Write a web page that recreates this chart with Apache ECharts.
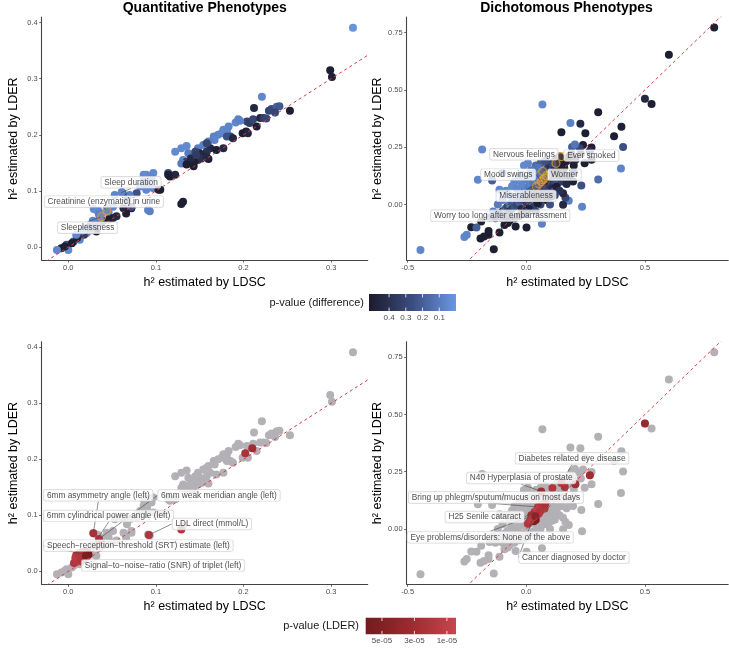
<!DOCTYPE html>
<html><head><meta charset="utf-8">
<script src="https://cdn.jsdelivr.net/npm/echarts@6/dist/echarts.min.js"></script>
<style>html,body{margin:0;padding:0;background:#fff}#c{width:729px;height:650px}</style>
</head><body><div id="c"></div>
<script>
// ---------------- DATA ----------------
// Quantitative phenotypes: [h2 LDSC, h2 LDER, p-value (difference)]
const quantPoints = [
 [0.325,0.391,0.02],[0.299,0.315,0.5],[0.301,0.303,0.5],[0.221,0.268,0.06],[0.212,0.248,0.45],[0.253,0.243,0.5],
 [0.232,0.246,0.25],[0.238,0.250,0.2],[0.241,0.251,0.22],[0.229,0.243,0.3],[0.236,0.240,0.3],[0.204,0.224,0.3],
 [0.207,0.221,0.35],[0.211,0.228,0.3],[0.219,0.230,0.45],[0.223,0.230,0.35],[0.226,0.229,0.3],[0.196,0.225,0.07],
 [0.191,0.222,0.06],[0.194,0.228,0.08],[0.215,0.215,0.5],[0.203,0.206,0.5],[0.199,0.203,0.5],[0.205,0.203,0.45],
 [0.183,0.215,0.07],[0.177,0.209,0.06],[0.181,0.206,0.07],[0.175,0.203,0.06],[0.171,0.200,0.07],[0.166,0.197,0.08],
 [0.185,0.197,0.3],[0.181,0.197,0.25],[0.188,0.194,0.45],[0.167,0.191,0.07],[0.160,0.188,0.09],[0.154,0.182,0.08],
 [0.148,0.176,0.09],[0.135,0.180,0.05],[0.129,0.176,0.05],[0.122,0.170,0.05],[0.137,0.167,0.1],[0.141,0.161,0.15],
 [0.131,0.155,0.07],[0.135,0.152,0.35],[0.162,0.176,0.45],[0.158,0.170,0.4],[0.154,0.161,0.5],[0.148,0.155,0.5],
 [0.143,0.149,0.5],[0.169,0.173,0.5],[0.177,0.176,0.45],[0.158,0.185,0.3],[0.150,0.167,0.45],[0.145,0.170,0.3],
 [0.140,0.158,0.45],[0.152,0.158,0.4],[0.146,0.164,0.35],[0.129,0.149,0.1],[0.135,0.147,0.5],[0.143,0.144,0.5],
 [0.160,0.157,0.5],[0.158,0.160,0.45],[0.114,0.132,0.25],[0.116,0.126,0.5],[0.122,0.129,0.45],[0.097,0.132,0.05],
 [0.089,0.129,0.05],[0.093,0.126,0.06],[0.095,0.123,0.06],[0.086,0.117,0.05],[0.082,0.108,0.06],[0.090,0.113,0.08],
 [0.105,0.102,0.5],[0.097,0.105,0.06],[0.078,0.096,0.25],[0.070,0.093,0.08],[0.062,0.096,0.3],[0.053,0.093,0.07],
 [0.067,0.084,0.3],[0.051,0.072,0.06],[0.044,0.069,0.05],[0.032,0.066,0.05],[0.038,0.060,0.06],[0.046,0.062,0.08],
 [0.063,0.069,0.45],[0.072,0.069,0.5],[0.066,0.060,0.5],[0.091,0.066,0.07],[0.093,0.064,0.08],[0.131,0.081,0.5],
 [0.129,0.077,0.5],[0.051,0.052,0.5],[0.055,0.055,0.45],[0.030,0.043,0.06],[0.025,0.037,0.2],[0.032,0.028,0.5],
 [0.021,0.025,0.06],[0.013,0.019,0.3],[0.013,0.013,0.06],[0.006,0.010,0.25],[-0.002,0.004,0.25],[-0.008,-0.002,0.5],
 [-0.013,-0.005,0.06],[0.000,-0.005,0.05],[-0.004,0.001,0.5],[0.004,0.007,0.5],[0.010,0.016,0.5],[0.018,0.022,0.35],
 [0.026,0.030,0.08],[0.035,0.042,0.1],[0.040,0.047,0.3],[0.028,0.047,0.06],[0.036,0.050,0.07],[0.034,0.065,0.06],
 [0.029,0.068,0.05],[0.061,0.098,0.07],[0.089,0.102,0.06],[0.086,0.129,0.05],[0.103,0.102,0.5],[0.114,0.129,0.5],
 [0.072,0.072,0.25],[0.046,0.049,0.5],[0.020,0.033,0.07],[0.015,0.028,0.2],[0.009,0.022,0.06],[0.022,0.035,0.3],
 [0.035,0.058,0.08],[0.017,0.030,0.06]
];
// Quantitative phenotypes significant by LDER: [h2 LDSC, h2 LDER, p-value (LDER)]
const quantSig = [
 [0.210,0.220,3e-5],[0.202,0.211,2.5e-5],[0.0285,0.068,2.5e-5],[0.092,0.065,2e-5],[0.129,0.075,2e-5],[0.035,0.058,2e-5],
 [0.0065,0.015,2e-5],[0.0095,0.020,1.5e-5],[0.011,0.026,2e-5],[0.015,0.029,3e-5],[0.019,0.031,2e-5],[0.022,0.033,2.5e-5],
 [0.013,0.023,1e-5],[0.009,0.029,2e-5],[0.017,0.021,2e-5],[0.021,0.027,2.5e-5],[0.008,0.024,1.5e-5],[0.012,0.032,2e-5],
 [0.016,0.034,2e-5],[0.020,0.035,2e-5],[0.014,0.018,2e-5],[0.023,0.030,5.8e-5],[0.020,0.028,5.5e-5]
];
const quantHighlight = [[0.044,0.065],[0.038,0.054]];
const quantLabels = [
 ['Sleep duration',0.059,0.096],['Creatinine (enzymatic) in urine',0.044,0.065],['Sleeplessness',0.038,0.054]
];
const quantSigLabels = [
 ['6mm asymmetry angle (left)',0.0285,0.068],['6mm weak meridian angle (left)',0.035,0.058],
 ['6mm cylindrical power angle (left)',0.022,0.033],['LDL direct (mmol/L)',0.092,0.065],
 ['Speech\u2212reception\u2212threshold (SRT) estimate (left)',0.020,0.030],
 ['Signal\u2212to\u2212noise\u2212ratio (SNR) of triplet (left)',0.018,0.025]
];

// Dichotomous phenotypes: [h2 LDSC, h2 LDER, p-value (difference)]
const dichoPoints = [
 [0.792,0.772,0.5],[0.601,0.653,0.5],[0.500,0.461,0.45],[0.528,0.439,0.5],[0.068,0.436,0.06],[0.303,0.403,0.5],
 [0.186,0.356,0.08],[0.228,0.352,0.45],[0.401,0.339,0.5],[0.148,0.315,0.5],[0.249,0.311,0.5],[0.370,0.298,0.5],
 [0.408,0.251,0.25],[-0.186,0.240,0.06],[0.193,0.251,0.2],[0.239,0.260,0.5],[0.275,0.249,0.5],[0.225,0.246,0.3],
 [0.205,0.262,0.12],[0.399,0.157,0.07],[0.303,0.109,0.15],[-0.204,0.108,0.06],[-0.144,0.105,0.2],[-0.113,0.064,0.06],
 [-0.101,0.137,0.2],[0.232,0.083,0.25],[0.235,-0.010,0.07],[0.179,0.017,0.08],[0.155,-0.001,0.45],[0.165,0.030,0.3],
 [-0.446,-0.198,0.06],[-0.261,-0.142,0.06],[-0.251,-0.132,0.07],[-0.232,-0.099,0.5],[-0.193,-0.148,0.5],[-0.159,-0.132,0.5],
 [-0.159,-0.115,0.5],[-0.113,-0.122,0.5],[-0.137,-0.195,0.5],[-0.178,-0.140,0.5],[0.001,-0.100,0.5],[0.066,-0.084,0.08],
 [-0.045,-0.096,0.5],[-0.078,-0.081,0.5],[-0.092,-0.089,0.5],[-0.190,-0.074,0.5],[-0.155,-0.057,0.2],[-0.130,-0.040,0.25],
 [-0.210,-0.100,0.2],[0.246,0.180,0.5],[0.275,0.195,0.5],[0.230,0.220,0.45],[0.200,0.190,0.4],[0.190,0.220,0.5],
 [-0.13,-0.06,0.5],[-0.12,-0.04,0.3],[-0.11,-0.05,0.2],[-0.10,-0.03,0.45],[-0.10,-0.06,0.3],[-0.09,-0.02,0.15],
 [-0.09,-0.05,0.5],[-0.08,-0.01,0.3],[-0.08,-0.04,0.25],[-0.07,0.00,0.1],[-0.07,-0.03,0.4],[-0.06,0.01,0.2],
 [-0.06,-0.02,0.35],[-0.05,0.02,0.08],[-0.05,-0.01,0.25],[-0.04,0.03,0.15],[-0.04,0.00,0.3],[-0.03,0.04,0.1],
 [-0.03,0.01,0.2],[-0.02,0.05,0.06],[-0.02,0.02,0.25],[-0.01,0.06,0.12],[-0.01,0.03,0.2],[0.00,0.07,0.08],
 [0.00,0.04,0.22],[0.00,0.01,0.35],[0.01,0.08,0.1],[0.01,0.05,0.18],[0.01,0.02,0.3],[0.02,0.09,0.07],
 [0.02,0.06,0.15],[0.02,0.03,0.35],[0.03,0.10,0.12],[0.03,0.07,0.2],[0.03,0.04,0.25],[0.04,0.11,0.06],
 [0.04,0.08,0.15],[0.04,0.05,0.22],[0.04,0.02,0.4],[0.05,0.12,0.1],[0.05,0.09,0.2],[0.05,0.06,0.3],
 [0.06,0.13,0.15],[0.06,0.10,0.12],[0.06,0.07,0.25],[0.06,0.04,0.4],[0.07,0.14,0.2],[0.07,0.11,0.18],
 [0.07,0.08,0.3],[0.08,0.15,0.25],[0.08,0.12,0.15],[0.08,0.09,0.35],[0.08,0.06,0.3],[0.09,0.16,0.3],
 [0.09,0.13,0.22],[0.09,0.10,0.4],[0.10,0.17,0.4],[0.10,0.14,0.2],[0.10,0.11,0.45],[0.10,0.08,0.35],
 [0.11,0.18,0.45],[0.11,0.15,0.3],[0.11,0.12,0.5],[0.12,0.19,0.45],[0.12,0.16,0.5],[0.12,0.13,0.35],
 [0.13,0.20,0.5],[0.13,0.17,0.3],[0.13,0.14,0.5],[0.14,0.21,0.45],[0.14,0.18,0.5],[0.15,0.19,0.4],
 [0.15,0.16,0.5],[0.16,0.20,0.5],[0.17,0.19,0.45],[0.18,0.21,0.5],[0.16,0.13,0.3],[0.14,0.12,0.5],
 [0.12,0.10,0.3],[0.11,0.07,0.45],[0.09,0.05,0.25],[0.07,0.03,0.35],[0.05,0.01,0.45],[0.03,-0.01,0.35],
 [0.01,-0.02,0.5],[-0.01,-0.03,0.3],[-0.03,-0.05,0.5],[-0.05,-0.06,0.35],[-0.07,-0.07,0.5],
 [-0.01,0.17,0.05],[0.007,0.18,0.06],[-0.03,0.12,0.07],[-0.05,0.10,0.06],[-0.06,0.08,0.05],[-0.085,0.06,0.06],
 [-0.04,0.07,0.07],[-0.02,0.09,0.06],[0.00,0.11,0.08],[0.02,0.13,0.07],[0.03,0.15,0.1],[-0.07,0.04,0.07],
 [-0.10,0.02,0.08],[-0.12,0.00,0.1],[-0.14,-0.03,0.1],[0.04,0.17,0.15],[0.06,0.18,0.2],[0.08,0.19,0.25],
 [0.02,0.15,0.1],[0.05,0.16,0.12],[-0.02,0.13,0.08],[0.10,0.04,0.2],[0.08,0.02,0.25],[0.00,-0.04,0.4],
 [0.13,0.09,0.25],[0.15,0.10,0.35],[0.06,0.00,0.3],[-0.02,-0.02,0.45],[0.04,-0.03,0.3],[0.12,0.06,0.2],
 [0.20,0.17,0.5],[0.197,0.10,0.5],[0.127,0.078,0.5],[0.155,0.049,0.45],[0.106,0.035,0.5],[0.089,0.020,0.5],
 [0.049,0.006,0.5],[0.18,0.12,0.5],[0.17,0.09,0.45],[0.14,0.06,0.4],[0.20,0.14,0.35],[0.16,0.16,0.5],
 [0.12,0.04,0.3],[0.10,0.00,0.25],[0.268,0.234,0.4],[0.207,0.195,0.45],[0.162,0.183,0.5],[0.110,0.179,0.3]
];
// Dichotomous phenotypes significant by LDER: [h2 LDSC, h2 LDER, p-value (LDER)]
const dichoSig = [
 [0.500,0.461,3.5e-5],[0.268,0.234,3e-5],[0.207,0.195,3e-5],[0.162,0.183,2.5e-5],[0.110,0.179,2e-5],[0.148,0.201,2e-5],
 [0.063,0.164,3e-5],[0.014,0.031,2e-5],[0.028,0.045,1.5e-5],[0.042,0.060,2e-5],[0.056,0.074,1.5e-5],[0.070,0.089,2e-5],
 [0.035,0.074,2e-5],[0.021,0.060,2.5e-5],[0.049,0.096,1.5e-5],[0.063,0.103,2e-5],[0.077,0.089,2e-5],[0.007,0.023,2e-5],
 [0.032,0.033,5e-5],[0.040,0.040,5.5e-5],[0.046,0.085,1e-5],[0.060,0.080,2e-5],[0.025,0.050,2e-5],[0.052,0.066,2e-5],
 [0.080,0.110,2.5e-5],[0.018,0.040,1.5e-5],[0.038,0.055,4.5e-5]
];
const dichoHighlight = [[0.042,0.078],[0.054,0.090],[0.063,0.100],[0.070,0.108],[0.077,0.115],[0.085,0.126],[0.069,0.144],[0.125,0.180],[0.148,0.209]];
const dichoLabels = [
 ['Nervous feelings',0.125,0.180],['Ever smoked',0.148,0.209],['Mood swings',0.063,0.100],
 ['Worrier',0.085,0.126],['Miserableness',0.054,0.090],['Worry too long after embarrassment',0.042,0.078]
];
const dichoSigLabels = [
 ['Diabetes related eye disease',0.148,0.201],['N40 Hyperplasia of prostate',0.063,0.164],
 ['Bring up phlegm/sputum/mucus on most days',0.049,0.096],['H25 Senile cataract',0.035,0.074],
 ['Eye problems/disorders: None of the above',0.021,0.055],['Cancer diagnosed by doctor',0.028,0.045]
];
const quantXTicks = [0, 0.1, 0.2, 0.3];
const quantYTicks = [0, 0.1, 0.2, 0.3, 0.4];
const dichoXTicks = [-0.5, 0, 0.5];
const dichoYTicks = [0, 0.25, 0.5, 0.75];
const pDiffTicks = [0.4, 0.3, 0.2, 0.1];
const pLderTicks = [5e-5, 3e-5, 1e-5];

// ---------------- LAYOUT / STYLE ----------------
const FONT = 'Liberation Sans, Arial, Helvetica, sans-serif';
const blueStops = ['#6b98e4', '#3b4d80', '#1b1b2b'];   // low p -> high p
const redStops = ['#c9444e', '#9e2a30', '#741a1e'];
const pDiffRange = [0, 0.52];
const pLderRange = [4.4e-6, 6e-5];
const GRAY = '#b3b1b5';
const DIAG = '#d23f45';
const labelOffsets = {
 'Sleep duration':[11,-11], 'Creatinine (enzymatic) in urine':[-3,-9], 'Sleeplessness':[-14,11],
 'Ever smoked':[30,-1], 'Nervous feelings':[-32,-9], 'Mood swings':[-33,-7], 'Worrier':[18,-1],
 'Miserableness':[-13,12], 'Worry too long after embarrassment':[-36,29],
 '6mm asymmetry angle (left)':[5,-38], '6mm weak meridian angle (left)':[120,-43.5],
 '6mm cylindrical power angle (left)':[21,-37], 'LDL direct (mmol/L)':[63,-11],
 'Speech\u2212reception\u2212threshold (SRT) estimate (left)':[52.5,-9],
 'Signal\u2212to\u2212noise\u2212ratio (SNR) of triplet (left)':[79,8],
 'Diabetes related eye disease':[10.6,-24.6], 'N40 Hyperplasia of prostate':[-20,-13.4],
 'Bring up phlegm/sputum/mucus on most days':[-42,-9.4], 'H25 Senile cataract':[-50,5],
 'Eye problems/disorders: None of the above':[-41,21], 'Cancer diagnosed by doctor':[41,39]
};

const grids = [
 {left:41.7, top:17, width:326, height:243},
 {left:406.7, top:17, width:321.5, height:243},
 {left:41.7, top:341.7, width:326, height:242.6},
 {left:406.7, top:341.7, width:321.5, height:242.6}
];
const quantX = [-0.0304, 0.3418], quantY = [-0.023, 0.41];
const dichoX = [-0.504, 0.851], dichoY = [-0.242, 0.818];

function fmt(v, d){ return v.toFixed(d); }
function xAxis(i, range, ticks, dec){
 return {type:'value', gridIndex:i, min:range[0], max:range[1],
  name:'h\u00b2 estimated by LDSC', nameLocation:'middle', nameGap:16,
  nameTextStyle:{fontFamily:FONT, fontSize:12.5, color:'#000'},
  axisLine:{show:true, onZero:false, lineStyle:{color:'#444', width:1.1}},
  axisTick:{show:true, length:2.5, customValues:ticks, lineStyle:{color:'#444', width:0.8}},
  axisLabel:{customValues:ticks, margin:3.5, fontFamily:FONT, fontSize:7.5, color:'#4d4d4d', formatter:v=>fmt(v,dec)},
  splitLine:{show:false}};
}
function yAxis(i, range, ticks, dec){
 return {type:'value', gridIndex:i, min:range[0], max:range[1],
  name:'h\u00b2 estimated by LDER', nameLocation:'middle', nameGap:22, nameRotate:90,
  nameTextStyle:{fontFamily:FONT, fontSize:12.5, color:'#000'},
  axisLine:{show:true, onZero:false, lineStyle:{color:'#444', width:1.1}},
  axisTick:{show:true, length:2.5, customValues:ticks, lineStyle:{color:'#444', width:0.8}},
  axisLabel:{customValues:ticks, margin:4, fontFamily:FONT, fontSize:7.5, color:'#4d4d4d', formatter:v=>fmt(v,dec)},
  splitLine:{show:false}};
}
function scatter(i, data, color){
 const s = {type:'scatter', xAxisIndex:i, yAxisIndex:i, symbolSize:8, data:data, silent:true, z:2,
  itemStyle:{opacity:1}};
 if (color) s.itemStyle.color = color;
 return s;
}
function rings(i, data){
 return {type:'scatter', xAxisIndex:i, yAxisIndex:i, symbolSize:8, data:data, silent:true, z:3,
  itemStyle:{color:'rgba(232,160,48,0.25)', borderColor:'#e3a033', borderWidth:1.1}};
}
function diag(i){
 return {type:'line', xAxisIndex:i, yAxisIndex:i, data:[[-1,-1],[1,1]], showSymbol:false, symbol:'none',
  color:DIAG, silent:true, clip:true, z:4, itemStyle:{color:DIAG},
  lineStyle:{color:DIAG, width:1, type:[3,3], opacity:1}};
}
function labels(i, list){
 return {type:'scatter', xAxisIndex:i, yAxisIndex:i, symbolSize:3, silent:true, z:6,
  itemStyle:{color:'rgba(0,0,0,0)'},
  data:list.map(r=>({name:r[0], value:[r[1],r[2]]})),
  label:{show:true, formatter:'{b}', position:'inside', fontFamily:FONT, fontSize:8.3, color:'#1a1a1a',
   backgroundColor:'#fff', borderColor:'#cccccc', borderWidth:0.7, borderRadius:2, padding:[1.5,3,1.5,3]},
  labelLine:{show:true, lineStyle:{color:'#444', width:0.6}},
  labelLayout:function(p){
   const off = labelOffsets[p.text] || [0,0];
   return {x:p.rect.x+p.rect.width/2+off[0], y:p.rect.y+p.rect.height/2+off[1], align:'center', verticalAlign:'middle', hideOverlap:false};
  }};
}

const series = [
 scatter(0, quantPoints), rings(0, quantHighlight), diag(0), labels(0, quantLabels),
 scatter(1, dichoPoints), rings(1, dichoHighlight), diag(1), labels(1, dichoLabels),
 scatter(2, quantPoints.map(r=>[r[0],r[1]]), GRAY), scatter(2, quantSig), diag(2), labels(2, quantSigLabels),
 scatter(3, dichoPoints.map(r=>[r[0],r[1]]), GRAY), scatter(3, dichoSig), diag(3), labels(3, dichoSigLabels)
];

// legends (colour bars)
function colourBar(title, tx, ty, bx, by, bw, bh, stops, range, ticks, tickFmt){
 const els = [];
 els.push({type:'text', x:tx, y:ty, style:{text:title, fontFamily:FONT, fontSize:11, fill:'#1a1a1a', align:'right', verticalAlign:'middle'}});
 els.push({type:'rect', shape:{x:bx, y:by, width:bw, height:bh},
  style:{fill:new echarts.graphic.LinearGradient(0,0,1,0,[{offset:0,color:stops[2]},{offset:0.5,color:stops[1]},{offset:1,color:stops[0]}])}});
 ticks.forEach(t=>{
  const f = 1 - (t - range[0])/(range[1]-range[0]);
  const x = bx + bw*f;
  els.push({type:'line', shape:{x1:x,y1:by,x2:x,y2:by+bh*0.2}, style:{stroke:'#fff', lineWidth:0.8}});
  els.push({type:'line', shape:{x1:x,y1:by+bh*0.8,x2:x,y2:by+bh}, style:{stroke:'#fff', lineWidth:0.8}});
  els.push({type:'text', x:x, y:by+bh+3, style:{text:tickFmt(t), fontFamily:FONT, fontSize:8, fill:'#4d4d4d', align:'center', verticalAlign:'top'}});
 });
 return els;
}
function sci(v){ const e = Math.floor(Math.log10(v)); const m = Math.round(v/Math.pow(10,e)); return m+'e-'+String(-e).padStart(2,'0'); }

const graphics = [
 {type:'text', x:204.8, y:8.5, style:{text:'Quantitative Phenotypes', fontFamily:FONT, fontSize:14, fontWeight:'bold', fill:'#000', align:'center', verticalAlign:'middle'}},
 {type:'text', x:566.5, y:8.5, style:{text:'Dichotomous Phenotypes', fontFamily:FONT, fontSize:14, fontWeight:'bold', fill:'#000', align:'center', verticalAlign:'middle'}}
].concat(
 colourBar('p-value (difference)', 364, 302.5, 369, 294, 87, 17, blueStops, pDiffRange, pDiffTicks, v=>v.toFixed(1)),
 colourBar('p-value (LDER)', 359, 626, 365.7, 617.7, 90.3, 16.5, redStops, pLderRange, pLderTicks, sci)
);

const chart = echarts.init(document.getElementById('c'), null, {renderer:'canvas'});
chart.setOption({
 animation:false,
 backgroundColor:'#fff',
 grid:grids,
 xAxis:[xAxis(0,quantX,quantXTicks,1), xAxis(1,dichoX,dichoXTicks,1), xAxis(2,quantX,quantXTicks,1), xAxis(3,dichoX,dichoXTicks,1)],
 yAxis:[yAxis(0,quantY,quantYTicks,1), yAxis(1,dichoY,dichoYTicks,2), yAxis(2,quantY,quantYTicks,1), yAxis(3,dichoY,dichoYTicks,2)],
 visualMap:[
  {type:'continuous', show:false, seriesIndex:[0,4], dimension:2, min:pDiffRange[0], max:pDiffRange[1], inRange:{color:blueStops}},
  {type:'continuous', show:false, seriesIndex:[9,13], dimension:2, min:pLderRange[0], max:pLderRange[1], inRange:{color:redStops}}
 ],
 series:series,
 graphic:graphics
});
</script></body></html>
